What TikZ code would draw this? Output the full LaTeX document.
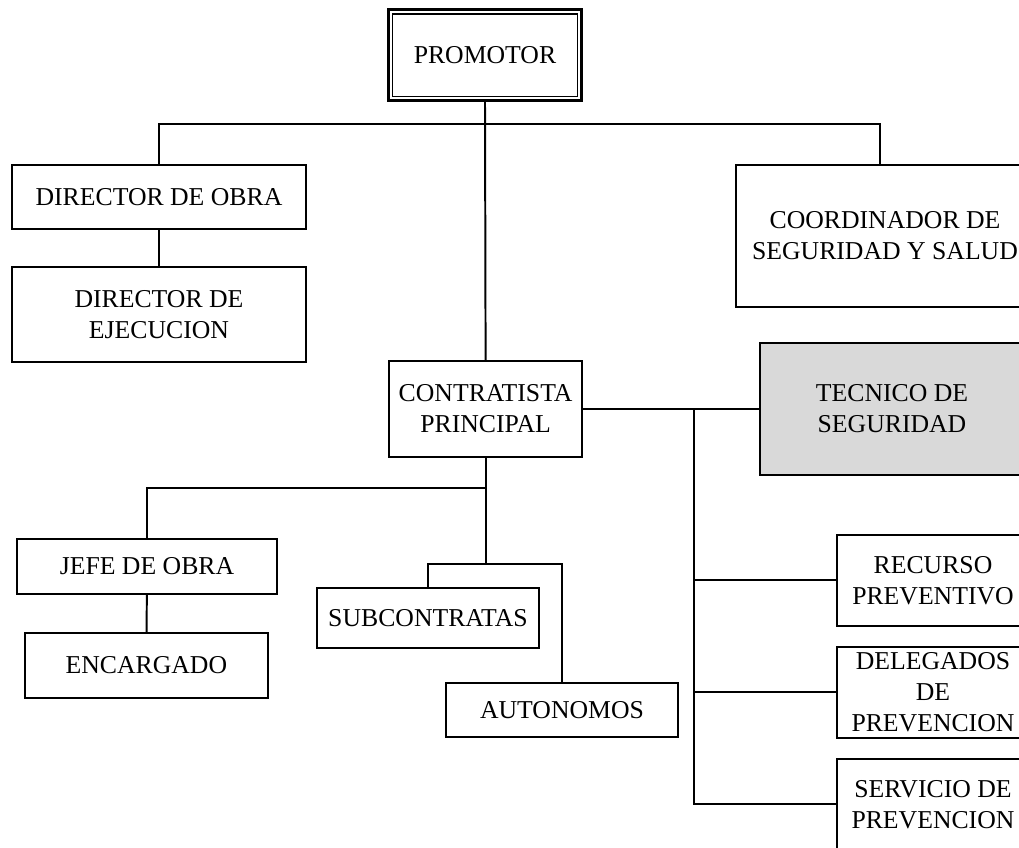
\documentclass[tikz,border=0pt]{standalone}
\usepackage{fontspec}
\setmainfont{Liberation Serif}
\usepackage{xcolor}
\usepackage{tikz}
\usetikzlibrary{positioning,calc}
\tikzset{
orgbox/.style={rectangle,draw,line width=1.4pt,align=center,inner sep=1pt,font=\fontsize{18.3}{22}\selectfont},
orgtop/.style={orgbox,line width=2pt},
orgshade/.style={fill=black!15},
orgline/.style={line width=1.4pt}
}

\begin{document}
\begin{tikzpicture}[
x=1cm,
y=1cm
]
\clip (0,0) rectangle (25.475,-21.2);
\node[orgtop,minimum width=4.825cm,minimum height=2.275cm]
  (promotor) at (12.125,-1.375) {PROMOTOR};
\draw[line width=1.1pt] ([shift={(0.13,-0.15)}]promotor.north west) rectangle ([shift={(-0.13,0.13)}]promotor.south east);
\node[orgbox,minimum width=7.35cm,minimum height=1.6cm]
  (dirobra) at (3.975,-4.925) {DIRECTOR DE OBRA};
\node[orgbox,minimum width=7.35cm,minimum height=2.375cm]
  (direjec) at (3.975,-7.86) {DIRECTOR DE\\EJECUCION};
\node[orgbox,minimum width=7.45cm,minimum height=3.55cm]
  (coord) at (22.125,-5.9) {COORDINADOR DE\\SEGURIDAD Y SALUD};
\node[orgbox,minimum width=4.825cm,minimum height=2.4cm]
  (contrat) at (12.14,-10.225) {CONTRATISTA\\PRINCIPAL};
\node[orgbox,orgshade,minimum width=6.6cm,minimum height=3.3cm]
  (tecnico) at (22.3,-10.225) {TECNICO DE\\SEGURIDAD};
\node[orgbox,minimum width=6.5cm,minimum height=1.375cm]
  (jefe) at (3.675,-14.16) {JEFE DE OBRA};
\node[orgbox,minimum width=6.075cm,minimum height=1.625cm]
  (encargado) at (3.66,-16.64) {ENCARGADO};
\node[orgbox,minimum width=5.55cm,minimum height=1.5cm]
  (subcon) at (10.7,-15.45) {SUBCONTRATAS};
\node[orgbox,minimum width=5.8cm,minimum height=1.35cm]
  (auton) at (14.05,-17.75) {AUTONOMOS};
\node[orgbox,minimum width=4.8cm,minimum height=2.275cm]
  (recurso) at (23.325,-14.51) {RECURSO\\PREVENTIVO};
\node[orgbox,minimum width=4.8cm,minimum height=2.275cm]
  (delegados) at (23.325,-17.31) {DELEGADOS\\DE\\PREVENCION};
\node[orgbox,minimum width=4.8cm,minimum height=2.275cm]
  (servicio) at (23.325,-20.11) {SERVICIO DE\\PREVENCION};
% junction points of the tree
\coordinate (bustop) at (12.125,-3.1);
\coordinate (busmid) at (12.14,-12.2);
\coordinate (buslow) at (12.14,-14.1);
\coordinate (tap) at (17.35,-10.225);
\draw[orgline] (promotor.south)--(contrat.north);
\draw[orgline] (dirobra.north) |- (bustop) -| ([xshift=-0.125cm]coord.north);
\draw[orgline] (dirobra)--(direjec);
\draw[orgline] (contrat.east)--(tecnico.west);
\draw[orgline] (tap) |- (servicio.west);
\draw[orgline] (tap |- recurso.west)--(recurso.west);
\draw[orgline] (tap |- delegados.west)--(delegados.west);
\draw[orgline] (contrat.south)--(buslow);
\draw[orgline] (jefe.north) |- (busmid);
\draw[orgline] (jefe)--(encargado);
\draw[orgline] (subcon.north) |- (buslow) -| (auton.north);
\end{tikzpicture}
\end{document}
